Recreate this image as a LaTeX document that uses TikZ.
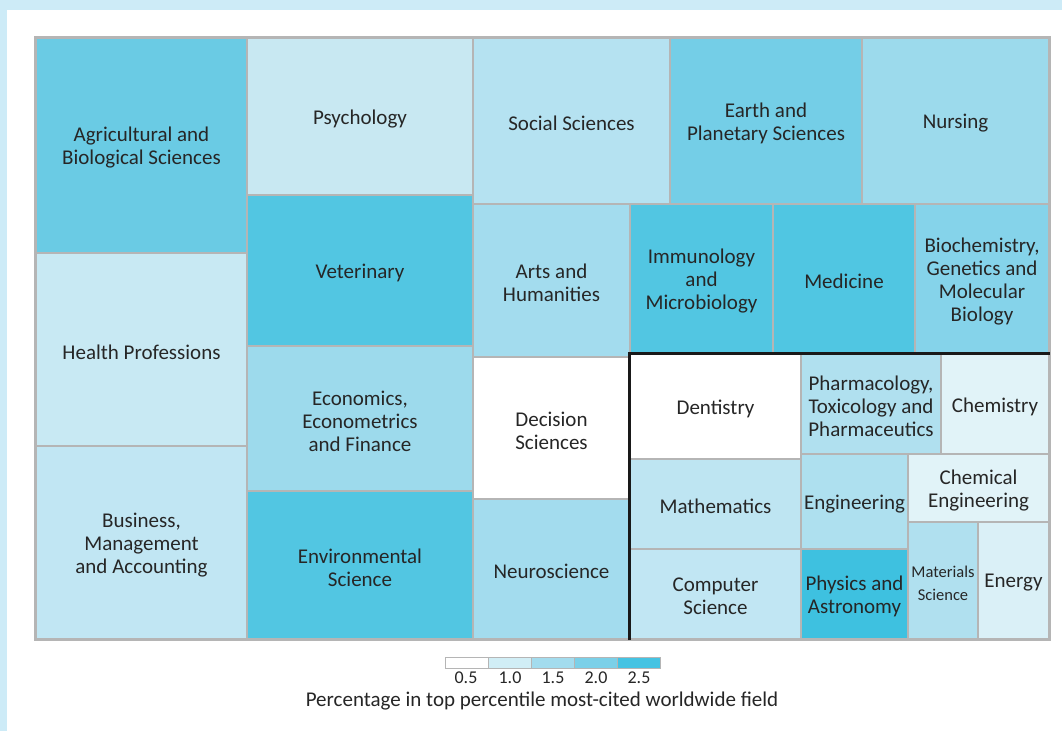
\documentclass[tikz,border=0pt]{standalone}
\usepackage{fontspec}
\setmainfont{Carlito}
\definecolor{frameblue}{HTML}{CDEBF7}
\definecolor{cellline}{HTML}{B5B5B5}
\definecolor{txt}{HTML}{262626}
\definecolor{cA}{HTML}{6ACBE4}
\definecolor{cPsy}{HTML}{C8E8F2}
\definecolor{cVet}{HTML}{52C6E2}
\definecolor{cEco}{HTML}{9DDAEC}
\definecolor{cEnv}{HTML}{52C6E2}
\definecolor{cHea}{HTML}{C8E9F3}
\definecolor{cBus}{HTML}{C1E6F3}
\definecolor{cSoc}{HTML}{B5E2F1}
\definecolor{cEar}{HTML}{74CEE7}
\definecolor{cNur}{HTML}{9CDAEC}
\definecolor{cArt}{HTML}{A3DCEE}
\definecolor{cNeu}{HTML}{A3DCEE}
\definecolor{cImm}{HTML}{52C6E2}
\definecolor{cMed}{HTML}{50C6E2}
\definecolor{cBio}{HTML}{85D3EA}
\definecolor{cMat}{HTML}{BEE5F2}
\definecolor{cCom}{HTML}{C1E6F3}
\definecolor{cPha}{HTML}{B0E0EF}
\definecolor{cChe}{HTML}{E1F3F8}
\definecolor{cEng}{HTML}{AEE0EF}
\definecolor{cCEn}{HTML}{E1F3F8}
\definecolor{cPhy}{HTML}{3EC1E0}
\definecolor{cMS}{HTML}{B0E0EF}
\definecolor{cEne}{HTML}{DAF0F7}
\definecolor{lg1}{HTML}{FFFFFF}
\definecolor{lg2}{HTML}{D1EEF6}
\definecolor{lg3}{HTML}{A3DCEE}
\definecolor{lg4}{HTML}{7BD0E8}
\definecolor{lg5}{HTML}{45C3E2}
\tikzset{
  cellbox/.style={draw=cellline, line width=2pt, rectangle, inner sep=0pt, anchor=north west},
  celltext/.style={align=center, text=txt, inner sep=0pt, yshift=-2.5pt, font=\fontsize{21}{23}\selectfont},
  legbox/.style={draw=cellline, line width=1pt, rectangle, inner sep=0pt, anchor=north west,
    minimum width=43pt, minimum height=11pt},
  legnum/.style={text=txt, font=\fontsize{18}{20}\selectfont, inner sep=0pt}
}
\newcommand\tmcell[7]{%
  \pgfmathsetmacro\tmw{#4-#2}\pgfmathsetmacro\tmh{#5-#3}%
  \node[cellbox, fill=#6, minimum width=\tmw pt, minimum height=\tmh pt] (#1) at (#2,#3) {};
  \node[celltext] (#1-t) at (#1.center) {#7};}
\begin{document}
\begin{tikzpicture}[x=1pt,y=-1pt]
\useasboundingbox (0,0) rectangle (1062,731);
\fill[frameblue] (0,0) rectangle (1062,731);
\fill[white] (7,10) rectangle (1062,731);
% column 1
\tmcell{agr}{35}{37}{246}{252}{cA}{Agricultural and\\Biological Sciences}
\tmcell{hea}{35}{252}{246}{445}{cHea}{Health Professions}
\tmcell{bus}{35}{445}{246}{638}{cBus}{Business,\\Management\\and Accounting}
% column 2
\tmcell{psy}{246}{37}{472}{194}{cPsy}{Psychology}
\tmcell{vet}{246}{194}{472}{345}{cVet}{Veterinary}
\tmcell{eco}{246}{345}{472}{490}{cEco}{Economics,\\Econometrics\\and Finance}
\tmcell{env}{246}{490}{472}{638}{cEnv}{Environmental\\Science}
% top row right
\tmcell{soc}{472}{37}{669}{203}{cSoc}{Social Sciences}
\tmcell{ear}{669}{37}{861}{203}{cEar}{Earth and\\Planetary Sciences}
\tmcell{nur}{861}{37}{1048}{203}{cNur}{Nursing}
% column 3
\tmcell{art}{472}{203}{629}{356}{cArt}{Arts and\\Humanities}
\tmcell{dec}{472}{356}{629}{498}{white}{Decision\\Sciences}
\tmcell{neu}{472}{498}{629}{638}{cNeu}{Neuroscience}
% middle row
\tmcell{imm}{629}{203}{772}{353}{cImm}{Immunology\\and\\Microbiology}
\tmcell{med}{772}{203}{914}{353}{cMed}{Medicine}
\tmcell{bio}{914}{203}{1048}{353}{cBio}{Biochemistry,\\Genetics and\\Molecular\\Biology}
% lower right block
\tmcell{den}{629}{353}{800}{458}{white}{Dentistry}
\tmcell{mat}{629}{458}{800}{548}{cMat}{Mathematics}
\tmcell{com}{629}{548}{800}{638}{cCom}{Computer\\Science}
\tmcell{pha}{800}{353}{940}{453}{cPha}{Pharmacology,\\Toxicology and\\Pharmaceutics}
\tmcell{che}{940}{353}{1048}{453}{cChe}{Chemistry}
\tmcell{eng}{800}{453}{907}{548}{cEng}{Engineering}
\tmcell{cen}{907}{453}{1048}{521}{cCEn}{Chemical\\Engineering}
\tmcell{phy}{800}{548}{907}{638}{cPhy}{Physics and\\Astronomy}
\tmcell{mas}{907}{521}{977}{638}{cMS}{\fontsize{16.5}{17}\selectfont Materials\\\fontsize{16.5}{17}\selectfont Science}
\tmcell{ene}{977}{521}{1048}{638}{cEne}{Energy}
% outer frame
\draw[cellline, line width=2.5pt] (agr.north west) rectangle (ene.south east);
% thick black edges
\draw[black!90, line width=3pt] (com.south west) -- (den.north west) -- (che.north east);
% legend
\node[legbox, fill=lg1] (l1) at (445,657) {};
\node[legbox, fill=lg2] (l2) at (488,657) {};
\node[legbox, fill=lg3] (l3) at (531,657) {};
\node[legbox, fill=lg4] (l4) at (574,657) {};
\node[legbox, fill=lg5] (l5) at (617,657) {};
\node[legnum] (n1) at (466,678) {0.5};
\node[legnum] (n2) at (510,678) {1.0};
\node[legnum] (n3) at (553,678) {1.5};
\node[legnum] (n4) at (596,678) {2.0};
\node[legnum] (n5) at (639,678) {2.5};
\node[text=txt, font=\fontsize{21}{23}\selectfont, inner sep=0pt] (cap) at (542,701) {Percentage in top percentile most-cited worldwide field};
\end{tikzpicture}
\end{document}
